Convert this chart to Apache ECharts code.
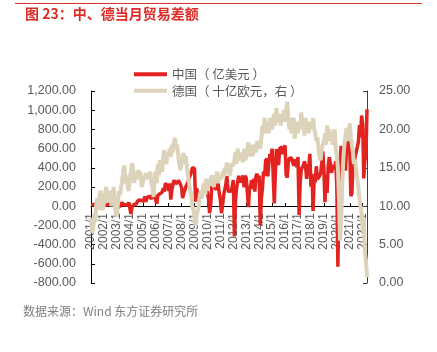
<!DOCTYPE html>
<html>
<head>
<meta charset="utf-8">
<script src="https://cdn.jsdelivr.net/npm/echarts@6/dist/echarts.min.js"></script>
<style>
  html, body { margin: 0; padding: 0; background: #fff; }
  #chart { width: 437px; height: 352px; }
</style>
</head>
<body>
<div id="chart"></div>
<script>
// 中国当月贸易差额（亿美元），2001/1 - 2022/5
var chinaBalance = [
  12, 5, 15, 10, 25, 30, 20, 25, 25, 30, 15, 20,            // 2001
  50, 10, 7, 10, 27, 35, 40, 38, 35, 40, 52, 26,            // 2002
  28, -13, -12, 2, 16, 40, 11, 28, 15, 30, 8, 40,           // 2003
  -15, -80, -8, -20, 20, 20, 23, 48, 44, 71, 50, 72,        // 2004
  65, 45, 103, 46, 90, 97, 105, 100, 76, 120, 106, 112,     // 2005
  96, 25, 112, 105, 130, 145, 146, 188, 153, 238, 230, 208, // 2006
  159, 237, 68, 168, 225, 270, 244, 250, 239, 270, 263, 226, // 2007
  195, 85, 134, 167, 203, 214, 252, 289, 293, 353, 401, 390, // 2008
  391, 48, 186, 131, 134, 83, 106, 157, 129, 240, 191, 184, // 2009
  142, 76, -72, 17, 195, 200, 287, 200, 169, 271, 229, 131, // 2010
  64, -73, 1, 114, 130, 222, 315, 178, 145, 170, 145, 165,  // 2011
  272, -315, 53, 184, 187, 317, 251, 266, 276, 320, 196, 316, // 2012
  292, 153, -9, 181, 204, 271, 178, 286, 152, 311, 338, 256, // 2013
  319, -200, 77, 185, 359, 316, 473, 498, 310, 454, 545, 497, // 2014
  600, 606, 30, 341, 594, 465, 430, 602, 603, 616, 541, 605, // 2015
  632, 326, 298, 455, 500, 481, 502, 521, 420, 490, 446, 407, // 2016
  513, -91, 239, 380, 405, 427, 467, 420, 285, 381, 402, 546, // 2017
  202, 337, -50, 287, 249, 416, 281, 279, 317, 340, 447, 570, // 2018
  391, 41, 326, 138, 417, 510, 450, 348, 396, 428, 387, 467, // 2019
  200, -630, 199, 453, 629, 465, 623, 589, 370, 584, 754, 781, // 2020
  627, 103, 138, 428, 455, 515, 566, 583, 667, 845, 717, 944, // 2021
  850, 290, 480, 510, 1010                                  // 2022
];

// 德国当月贸易差额（十亿欧元，右轴）
var germanyBalance = [
  8.5, 6.5, 7.0, 9.0, 8.0, 10.5, 11.0, 9.5, 11.5, 12.0, 10.0, 9.5,      // 2001
  10.5, 11.5, 12.5, 11.0, 10.5, 12.0, 11.5, 10.0, 11.5, 12.5, 10.5, 9.0, // 2002
  8.6, 10.5, 12.0, 11.5, 12.5, 13.5, 14.5, 15.3, 13.0, 14.0, 12.5, 12.0, // 2003
  13.5, 14.5, 15.6, 15.0, 13.0, 14.5, 13.5, 14.0, 14.7, 13.5, 14.5, 12.5, // 2004
  13.0, 14.0, 13.5, 14.3, 13.8, 14.2, 13.5, 14.5, 13.0, 12.5, 11.2, 13.5, // 2005
  14.5, 13.0, 15.5, 14.0, 16.0, 15.0, 14.5, 16.5, 17.3, 16.0, 15.5, 17.0, // 2006
  16.5, 17.5, 16.4, 18.0, 17.0, 18.5, 18.9, 17.5, 18.0, 16.5, 15.5, 14.7, // 2007
  15.5, 16.5, 16.9, 15.5, 16.5, 15.0, 14.0, 13.0, 12.0, 11.5, 10.0, 9.5,  // 2008
  8.5, 7.5, 8.8, 9.5, 10.0, 11.5, 12.0, 11.0, 12.5, 13.0, 11.5, 13.6,     // 2009
  12.0, 13.0, 12.7, 13.5, 14.0, 13.0, 12.5, 14.0, 13.5, 14.5, 13.0, 13.8, // 2010
  14.0, 13.6, 14.5, 13.8, 15.0, 14.2, 15.7, 14.5, 15.0, 14.0, 15.5, 15.3, // 2011
  15.3, 16.0, 17.0, 15.5, 17.5, 16.5, 16.0, 17.0, 16.5, 15.7, 17.5, 16.0, // 2012
  16.5, 17.5, 18.3, 16.5, 17.0, 18.0, 16.5, 17.5, 18.0, 17.0, 18.5, 18.0, // 2013
  18.5, 17.5, 18.8, 20.5, 19.5, 21.5, 19.5, 20.5, 21.0, 19.5, 21.5, 20.5, // 2014
  20.0, 21.5, 22.0, 20.5, 22.8, 21.0, 22.0, 21.5, 20.5, 22.0, 21.5, 22.5, // 2015
  21.0, 22.5, 23.6, 21.5, 20.0, 21.5, 19.5, 20.5, 21.5, 18.8, 20.5, 21.0, // 2016
  19.5, 21.0, 20.0, 22.2, 20.5, 21.0, 19.2, 21.5, 20.0, 21.0, 19.5, 20.5, // 2017
  21.0, 20.0, 21.5, 20.1, 19.5, 18.5, 19.0, 17.5, 16.3, 16.0, 17.5, 18.0, // 2018
  18.5, 19.5, 18.0, 20.5, 19.0, 20.0, 18.5, 19.5, 18.0, 19.5, 20.0, 17.5, // 2019
  16.5, 15.0, 11.0, 5.5, 8.0, 12.5, 16.0, 18.0, 19.0, 20.2, 18.5, 19.5,   // 2020
  20.8, 19.0, 18.0, 17.0, 15.5, 16.0, 14.7, 13.5, 12.5, 11.0, 9.9, 9.2,   // 2021
  6.9, 8.5, 4.0, 3.0, 0.75                                                // 2022
];

// 月份类目
var months = [];
for (var y = 2001; y <= 2022; y++) {
  for (var m = 1; m <= 12; m++) {
    if (y === 2022 && m > 5) break;
    months.push(y + '/' + m);
  }
}

var leftTicks = [-800, 1200, 200];  // min, max, interval
var rightTicks = [0, 25, 5];

var FONT = "'Liberation Sans', 'Noto Sans CJK SC', sans-serif";
var CJK = "'Noto Sans CJK SC', sans-serif";
var GRAY = '#595959';

function thousands(v) {
  var s = Math.abs(v).toFixed(2);
  var parts = s.split('.');
  parts[0] = parts[0].replace(/\B(?=(\d{3})+(?!\d))/g, ',');
  return (v < 0 ? '-' : '') + parts.join('.');
}

var chart = echarts.init(document.getElementById('chart'));

var option = {
  animation: false,
  backgroundColor: '#fff',
  textStyle: { fontFamily: FONT },
  graphic: [
    {
      type: 'line',
      shape: { x1: 15, y1: 3.5, x2: 422, y2: 3.5 },
      style: { stroke: '#e0302c', lineWidth: 1 }
    },
    {
      type: 'text',
      left: 25, top: 7,
      style: {
        text: '图 23：中、德当月贸易差额',
        fill: '#e02a26',
        font: "bold 14px 'Noto Sans CJK SC', sans-serif"
      }
    },
    {
      type: 'text',
      left: 23, top: 305,
      style: {
        text: '数据来源：Wind 东方证券研究所',
        fill: '#7f7f7f',
        font: "12px 'Noto Sans CJK SC', sans-serif"
      }
    }
  ],
  legend: {
    orient: 'vertical',
    left: 129,
    top: 63,
    itemWidth: 33,
    itemHeight: 4,
    itemGap: 4,
    icon: 'rect',
    textStyle: { color: GRAY, fontSize: 12.5, fontFamily: CJK },
    data: ['中国（ 亿美元 ）', '德国（ 十亿欧元，右 ）']
  },
  grid: { left: 91, right: 70, top: 91, bottom: 69, containLabel: false },
  xAxis: {
    type: 'category',
    data: months,
    boundaryGap: false,
    position: 'bottom',
    offset: -77,   // 横轴位于左轴 0 值处
    axisLine: { onZero: false, lineStyle: { color: '#000', width: 1 } },
    axisTick: {
      inside: true, length: 3,
      interval: function (i) { return i % 12 === 0; },
      lineStyle: { color: '#000' }
    },
    axisLabel: {
      rotate: 90,
      margin: 7,
      color: GRAY,
      fontSize: 12,
      interval: function (i) { return i % 12 === 0; }
    },
    splitLine: { show: false }
  },
  yAxis: [
    {
      type: 'value',
      min: leftTicks[0], max: leftTicks[1], interval: leftTicks[2],
      axisLine: { show: true, onZero: false, lineStyle: { color: '#000' } },
      axisTick: { show: true, inside: true, length: 4, lineStyle: { color: '#000' } },
      axisLabel: { color: GRAY, fontSize: 12.5, margin: 15, formatter: thousands },
      splitLine: { show: false }
    },
    {
      type: 'value',
      min: rightTicks[0], max: rightTicks[1], interval: rightTicks[2],
      position: 'right',
      axisLine: { show: true, onZero: false, lineStyle: { color: '#404040' } },
      axisTick: { show: true, inside: true, length: 4, lineStyle: { color: '#404040' } },
      axisLabel: { color: GRAY, fontSize: 12.5, margin: 12, formatter: function (v) { return v.toFixed(2); } },
      splitLine: { show: false }
    }
  ],
  series: [
    {
      name: '中国（ 亿美元 ）',
      type: 'line',
      yAxisIndex: 0,
      data: chinaBalance,
      showSymbol: false,
      color: '#e3231f',
      lineStyle: { width: 3.5, color: '#e3231f' }
    },
    {
      name: '德国（ 十亿欧元，右 ）',
      type: 'line',
      yAxisIndex: 1,
      data: germanyBalance,
      showSymbol: false,
      color: '#ddd3ba',
      lineStyle: { width: 4, color: '#ddd3ba' }
    }
  ]
};

chart.setOption(option);
</script>
</body>
</html>
